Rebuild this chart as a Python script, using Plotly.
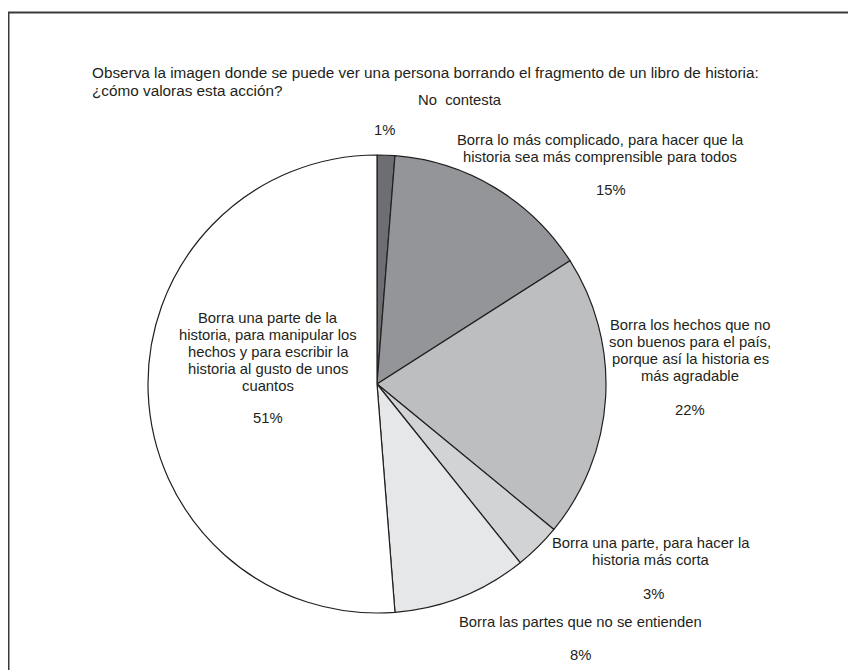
import plotly.graph_objects as go

W, H = 856, 670
OFF = 8  # page body margin

categories = [
    "No  contesta",
    "Borra lo más complicado, para hacer que la<br>historia sea más comprensible para todos",
    "Borra los hechos que no<br>son buenos para el país,<br>porque así la historia es<br>más agradable",
    "Borra una parte, para hacer la<br>historia más corta",
    "Borra las partes que no se entienden",
    "Borra una parte de la<br>historia, para manipular los<br>hechos y para escribir la<br>historia al gusto de unos<br>cuantos",
]
values = [1.25, 14.7, 20.0, 3.3, 9.5, 51.25]
pct_labels = ["1%", "15%", "22%", "3%", "8%", "51%"]
colors = ["#6d6e71", "#939598", "#bcbec0", "#d1d3d4", "#e6e7e8", "#ffffff"]

title_lines = ["Observa la imagen donde se puede ver una persona borrando el fragmento de un libro de historia:",
               "¿cómo valoras esta acción?"]

FONT = "Liberation Sans, Arial, sans-serif"
TXT = "#231f20"
FS = 14.8
FS_TITLE = 15.3
LH = 17

cx, cy, r = 377 - OFF, 384 - OFF, 229

fig = go.Figure(go.Pie(
    values=values,
    labels=[c.replace("<br>", " ") for c in categories],
    sort=False,
    direction="clockwise",
    rotation=0,
    textinfo="none",
    hoverinfo="label+percent",
    marker=dict(colors=colors, line=dict(color="#231f20", width=1.2)),
    domain=dict(x=[(cx - r) / W, (cx + r) / W], y=[(H - cy - r) / H, (H - cy + r) / H]),
    showlegend=False,
))


def px(x, y):
    return (x - OFF) / W, 1 - (y - OFF) / H


# label placements (screen pixel centers): (name center x, first line y, pct x, pct y)
label_pos = [
    (460, 100, 384, 130),
    (600, 140, 611, 190),
    (690, 325, 690, 410),
    (651, 543, 653, 594),
    (580, 622, 580, 655),
    (268, 318, 268, 418),
]

ann = []


def add_text(text, x, y, anchor="center", size=FS):
    ax, ay = px(x, y)
    ann.append(dict(text=text, x=ax, y=ay, xref="paper", yref="paper", showarrow=False,
                    xanchor=anchor, yanchor="middle",
                    font=dict(family=FONT, size=size, color=TXT)))


for cat, pct, (nx, ny, qx, qy) in zip(categories, pct_labels, label_pos):
    for i, line in enumerate(cat.split("<br>")):
        add_text(line, nx, ny + i * LH)
    add_text(pct, qx, qy)

for i, line in enumerate(title_lines):
    add_text(line, 90, 73 + i * LH, anchor="left", size=FS_TITLE)

shapes = [
    dict(type="line", xref="paper", yref="paper", x0=0, x1=1.0,
         y0=1 - (12.5 - OFF) / H, y1=1 - (12.5 - OFF) / H,
         line=dict(color="#3a3a3a", width=2)),
    dict(type="line", xref="paper", yref="paper", x0=0.5 / W, x1=0.5 / W,
         y0=0, y1=1 - (12.5 - OFF) / H,
         line=dict(color="#3a3a3a", width=2)),
]

fig.update_layout(
    width=W, height=H,
    margin=dict(l=0, r=0, t=0, b=0),
    paper_bgcolor="white", plot_bgcolor="white",
    annotations=ann, shapes=shapes,
)

fig.write_html("out.html")
